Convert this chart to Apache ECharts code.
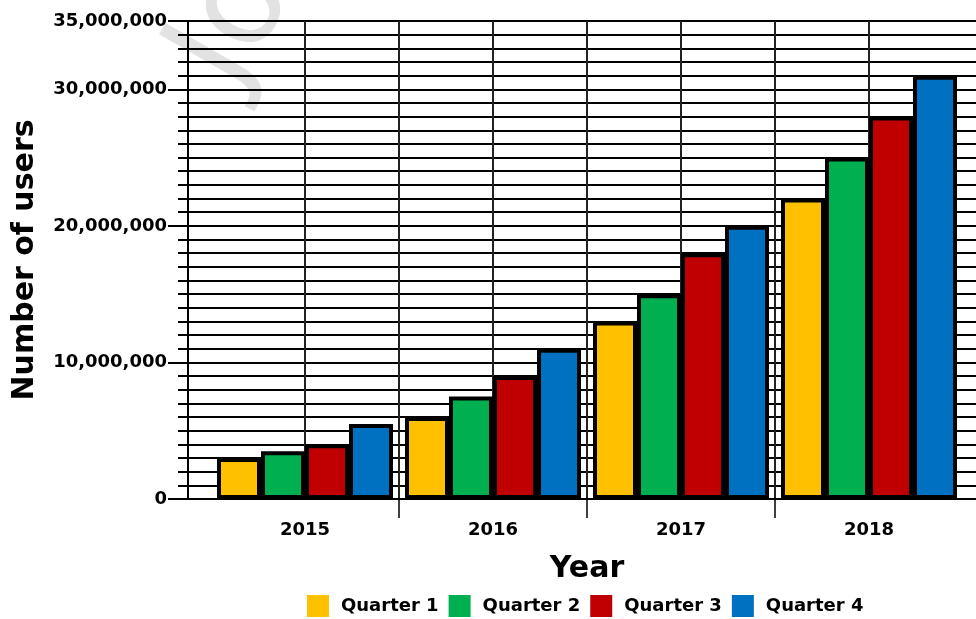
<!DOCTYPE html>
<html>
<head>
<meta charset="utf-8">
<script src="https://cdn.jsdelivr.net/npm/echarts@6/dist/echarts.min.js"></script>
<style>
  html, body { margin: 0; padding: 0; background: #fff; }
  #main { width: 976px; height: 619px; }
</style>
</head>
<body>
<div id="main"></div>
<script>
const years = ['2015', '2016', '2017', '2018'];
const quarterNames = ['Quarter 1', 'Quarter 2', 'Quarter 3', 'Quarter 4'];
const quarter1 = [3000000, 6000000, 13000000, 22000000];
const quarter2 = [3500000, 7500000, 15000000, 25000000];
const quarter3 = [4000000, 9000000, 18000000, 28000000];
const quarter4 = [5500000, 11000000, 20000000, 31000000];
const yLabelValues = [0, 10000000, 20000000, 30000000, 35000000];
const quarterColors = ['#FFC000', '#00B050', '#C00000', '#0070C0'];

const font = 'DejaVu Sans';
const chart = echarts.init(document.getElementById('main'));

const seriesData = [quarter1, quarter2, quarter3, quarter4];

const option = {
    animation: false,
    textStyle: { fontFamily: font },
    // 0: bars, 1: background lines + y axis, 2: vertical lines, 3: x ticks
    grid: [
        { left: 211, top: 21, width: 752, height: 478, outerBoundsMode: 'none' },
        { left: 188, top: 21, width: 788, height: 478, outerBoundsMode: 'none' },
        { left: 305, top: 21, width: 564, height: 478, outerBoundsMode: 'none' },
        { left: 399, top: 21, width: 376, height: 478, outerBoundsMode: 'none' }
    ],
    xAxis: [
        {
            gridIndex: 0, type: 'category', data: years,
            axisLine: { show: false }, axisTick: { show: false },
            axisLabel: { color: '#000', fontWeight: 'bold', fontSize: 18, margin: 22 },
            name: 'Year', nameLocation: 'middle', nameGap: 55,
            nameTextStyle: { color: '#000', fontWeight: 'bold', fontSize: 30 }
        },
        {
            gridIndex: 1, type: 'value', min: 0, max: 1,
            axisLine: { show: true, lineStyle: { color: '#000', width: 2 } },
            axisTick: { show: false }, axisLabel: { show: false }, splitLine: { show: false }
        },
        {
            gridIndex: 2, type: 'value', min: 0, max: 6, interval: 1,
            axisLine: { show: false }, axisTick: { show: false }, axisLabel: { show: false },
            splitLine: { show: true, lineStyle: { color: '#222', width: 2 } }
        },
        {
            gridIndex: 3, type: 'value', min: 0, max: 2, interval: 1,
            axisLine: { show: false }, axisLabel: { show: false }, splitLine: { show: false },
            axisTick: { show: true, length: 19, lineStyle: { color: '#000', width: 1.5 } }
        }
    ],
    yAxis: [
        { gridIndex: 0, type: 'value', min: 0, max: 35000000, show: false },
        {
            gridIndex: 1, type: 'value', min: 0, max: 35000000, interval: 1000000, position: 'left',
            axisLine: { show: true, lineStyle: { color: '#000', width: 2 } },
            axisTick: { show: true, length: 10, lineStyle: { color: '#000', width: 2 } },
            axisLabel: { show: false },
            splitLine: { show: true, lineStyle: { color: '#000', width: 2 } }
        },
        {
            gridIndex: 1, type: 'value', min: 0, max: 35000000, position: 'left', offset: 0,
            axisLine: { show: false },
            axisTick: { show: true, length: 20, customValues: yLabelValues, lineStyle: { color: '#000', width: 2 } },
            axisLabel: {
                customValues: yLabelValues, margin: 21,
                color: '#000', fontWeight: 'bold', fontSize: 18,
                formatter: v => v.toLocaleString('en-US')
            },
            splitLine: { show: false },
            name: 'Number of users', nameLocation: 'middle', nameGap: 148,
            nameTextStyle: { color: '#000', fontWeight: 'bold', fontSize: 30 }
        },
        { gridIndex: 2, type: 'value', show: false },
        { gridIndex: 3, type: 'value', show: false }
    ],
    legend: {
        left: 302, top: 590,
        itemWidth: 22, itemHeight: 22, itemGap: 10, icon: 'rect',
        itemStyle: { borderWidth: 0 },
        textStyle: { color: '#000', fontWeight: 'bold', fontSize: 18, padding: [0, 0, 0, 7] },
        data: quarterNames
    },
    graphic: [
        {
            type: 'text', x: 262, y: 108, rotation: 1.05, z: -10,
            style: { text: 'Jo', font: 'normal 130px DejaVu Sans', fill: '#e2e2e2', verticalAlign: 'bottom' }
        }
    ],
    series: quarterNames.map((name, i) => ({
        name: name,
        type: 'bar',
        xAxisIndex: 0, yAxisIndex: 0,
        barWidth: 44, barGap: '0%',
        data: seriesData[i],
        itemStyle: { color: quarterColors[i], borderColor: '#000', borderWidth: 4 }
    }))
};

chart.setOption(option);
</script>
</body>
</html>
